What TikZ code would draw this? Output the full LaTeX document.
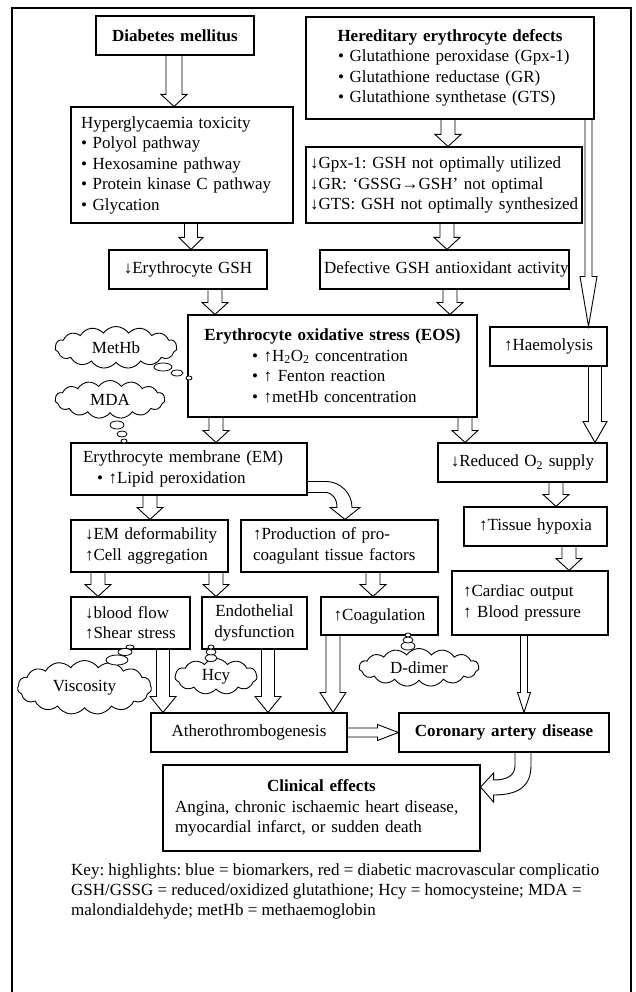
\documentclass[tikz,border=0pt]{standalone}
\usepackage{fontspec}
\setmainfont{Liberation Serif}
\usetikzlibrary{calc,shapes.symbols,shapes.geometric}
\pgfdeclarelayer{bg}
\pgfsetlayers{bg,main}
\frenchspacing
% vertical hollow block arrow: #1 src node, #2 tgt node, #3 x, #4 shaft half, #5 head half, #6 head length
\newcommand\varr[6]{%
  \draw[arr] let \p1=(#1.south -| #3,0), \p2=(#2.north -| #3,0) in
    (\x1-#4,\y1) -- (\x1-#4,\y2+#6) -- (\x1-#5,\y2+#6) -- (\x2,\y2) --
    (\x1+#5,\y2+#6) -- (\x1+#4,\y2+#6) -- (\x1+#4,\y1);}
\tikzset{
  box/.style={draw, line width=1.1pt, inner ysep=0pt, align=left},
  arr/.style={draw, line width=0.9pt, fill=white, line join=miter},
  cloudbox/.style={cloud, draw, line width=0.9pt, fill=white, cloud puffs=15, cloud puff arc=110, cloud ignores aspect, inner sep=0pt},
  bub/.style={draw, line width=0.8pt, fill=white},
}
\begin{document}
\begin{tikzpicture}[x=1pt, y=-1pt, font=\fontsize{17}{20.5}\selectfont]
\useasboundingbox (0,0) rectangle (635,992);
\draw[line width=1.1pt] (12,992) -- (12,8) -- (631,8) -- (631,992);

% boxes
\node[box, align=center, text width=150pt, inner xsep=4pt, minimum height=39pt] (dm) at (175,35.5) {\textbf{Diabetes mellitus}};
\node[box, text width=224pt, inner xsep=32pt, minimum height=102pt] (he) at (450,68)
  {\makebox[224pt][c]{\textbf{Hereditary erythrocyte defects}}\\
   \mbox{• Glutathione peroxidase (Gpx-1)}\\
   \mbox{• Glutathione reductase (GR)}\\
   \mbox{• Glutathione synthetase (GTS)}};
\node[box, text width=202pt, inner xsep=10pt, minimum height=116pt] (hy) at (182,165)
  {\mbox{Hyperglycaemia toxicity}\\ \mbox{• Polyol pathway}\\ \mbox{• Hexosamine pathway}\\
   \mbox{• Protein kinase C pathway}\\ \mbox{• Glycation}};
\node[box, text width=268pt, inner xsep=4pt, minimum height=76pt] (gp) at (444,185)
  {\mbox{↓Gpx-1: GSH not optimally utilized}\\
   \mbox{↓GR: ‘GSSG→GSH’ not optimal}\\
   \mbox{↓GTS: GSH not optimally synthesized}};
\node[box, align=center, text width=150pt, inner xsep=4pt, minimum height=39pt] (gs) at (188,269.5) {↓Erythrocyte GSH};
\node[box, align=center, text width=241pt, inner xsep=4pt, minimum height=39pt] (de) at (444.5,269.5) {\mbox{Defective GSH antioxidant activity}};
\node[box, text width=259pt, inner xsep=15pt, minimum height=102pt] (eos) at (332.5,366)
  {\makebox[259pt][c]{\textbf{Erythrocyte oxidative stress (EOS)}}\\
   \mbox{\hspace*{49pt}• ↑H\textsubscript{2}O\textsubscript{2} concentration}\\
   \mbox{\hspace*{49pt}• ↑ Fenton reaction}\\
   \mbox{\hspace*{49pt}• ↑metHb concentration}};
\node[box, align=center, text width=109pt, inner xsep=4pt, minimum height=39pt] (ha) at (548.5,346.5) {↑Haemolysis};
\node[box, text width=212pt, inner xsep=12pt, minimum height=52pt] (em) at (189,469)
  {\mbox{Erythrocyte membrane (EM)}\\ \mbox{\hspace*{14pt}• ↑Lipid peroxidation}};
\node[box, align=center, text width=161pt, inner xsep=4pt, minimum height=39pt] (ro) at (522.5,462.5) {↓Reduced O\textsubscript{2} supply};
\node[box, align=center, text width=135pt, inner xsep=4pt, minimum height=39pt] (th) at (535.5,526.5) {↑Tissue hypoxia};
\node[box, text width=134pt, inner xsep=11pt, minimum height=64pt] (co) at (530,603)
  {\mbox{↑Cardiac output}\\ \mbox{↑ Blood pressure}};
\node[box, text width=129pt, inner xsep=14pt, minimum height=52pt] (df) at (149.5,546)
  {\mbox{↓EM deformability}\\ \mbox{↑Cell aggregation}};
\node[box, text width=173pt, inner xsep=12pt, minimum height=52pt] (pr) at (339.5,546)
  {\mbox{↑Production of pro-}\\ \mbox{coagulant tissue factors}};
\node[box, text width=91pt, inner xsep=14pt, minimum height=52pt] (bf) at (130.5,623)
  {\mbox{↓blood flow}\\ \mbox{↑Shear stress}};
\node[box, align=center, text width=97pt, inner xsep=4pt, minimum height=52pt] (en) at (254.5,623)
  {Endothelial\\ dysfunction};
\node[box, align=center, text width=109pt, inner xsep=4pt, minimum height=38pt] (cg) at (379.5,616) {↑Coagulation};
\node[box, align=center, text width=188pt, inner xsep=4pt, minimum height=39pt] (at) at (249,732.5) {Atherothrombogenesis};
\node[box, align=center, text width=202pt, inner xsep=4pt, minimum height=39pt] (cad) at (504,732.5) {\textbf{Coronary artery disease}};
\node[box, text width=293pt, inner xsep=12pt, minimum height=86pt] (ce) at (321.5,808)
  {\makebox[293pt][c]{\textbf{Clinical effects}}\\
   \mbox{Angina, chronic ischaemic heart disease,}\\
   \mbox{myocardial infarct, or sudden death}};

% key
\node[anchor=north west, inner sep=0pt, align=left, font=\fontsize{17}{20}\selectfont] (key) at (71,863)
  {Key: highlights: blue = biomarkers, red = diabetic macrovascular complicatio\\
   GSH/GSSG = reduced/oxidized glutathione; Hcy = homocysteine; MDA =\\
   malondialdehyde; metHb = methaemoglobin};

% clouds
\node[cloudbox, minimum width=122pt, minimum height=42pt] (mh) at (116,347.5) {MetHb};
\node[cloudbox, minimum width=110pt, minimum height=38pt] (md) at (110,399.5) {MDA};
\node[cloudbox, minimum width=134pt, minimum height=54pt] (vi) at (84.5,687.5) {Viscosity};
\node[cloudbox, cloud puffs=11, minimum width=82pt, minimum height=36pt] (hc) at (216,676.5) {Hcy};
\node[cloudbox, minimum width=120pt, minimum height=38pt] (dd) at (419,667.5) {D-dimer};

% thought bubbles
\draw[bub] (163,367) ellipse [x radius=9pt, y radius=4pt];
\draw[bub] (177,373) ellipse [x radius=6pt, y radius=3pt];
\draw[bub] (189,378) ellipse [x radius=3pt, y radius=2pt];
\draw[bub] (117,425) ellipse [x radius=7pt, y radius=4pt];
\draw[bub] (122,434) ellipse [x radius=5pt, y radius=3pt];
\draw[bub] (124,441) ellipse [x radius=3pt, y radius=2pt];
\draw[bub] (117,660) ellipse [x radius=11pt, y radius=5pt];
\draw[bub] (125,652) ellipse [x radius=7pt, y radius=3.5pt];
\draw[bub] (130,647) ellipse [x radius=4pt, y radius=2pt];
\draw[bub] (211,658) ellipse [x radius=6pt, y radius=3.5pt];
\draw[bub] (211,652) ellipse [x radius=5pt, y radius=3pt];
\draw[bub] (211,647) ellipse [x radius=3pt, y radius=2pt];
\draw[bub] (408,646) ellipse [x radius=7pt, y radius=4pt];
\draw[bub] (408,640) ellipse [x radius=5pt, y radius=3pt];
\draw[bub] (408,635) ellipse [x radius=3pt, y radius=2pt];

% block arrows
\begin{pgfonlayer}{bg}
\varr{dm}{hy}{174}{8pt}{13pt}{12pt}
\varr{hy}{gs}{191}{6.5pt}{12pt}{12pt}
\varr{he}{gp}{448}{7pt}{13pt}{12pt}
\varr{gp}{de}{447}{7pt}{13pt}{12pt}
\varr{gs}{eos}{215}{7pt}{13pt}{12pt}
\varr{de}{eos}{450}{7pt}{13pt}{12pt}
\varr{eos}{em}{216}{7pt}{13pt}{12pt}
\varr{eos}{ro}{465}{7pt}{13pt}{12pt}
\varr{he}{ha}{588.5}{3.5pt}{8.5pt}{50pt}
\varr{ha}{ro}{595}{6.5pt}{12pt}{21pt}
\varr{ro}{th}{556}{7pt}{13pt}{12pt}
\varr{th}{co}{569}{7pt}{13pt}{12pt}
\varr{em}{df}{150}{7pt}{13pt}{12pt}
\varr{df}{bf}{98}{7pt}{13pt}{12pt}
\varr{df}{en}{216}{7pt}{13pt}{12pt}
\varr{pr}{cg}{373}{7pt}{13pt}{12pt}
\varr{bf}{at}{163}{6.5pt}{13pt}{16pt}
\varr{en}{at}{268}{6.5pt}{13pt}{16pt}
\varr{cg}{at}{333}{7pt}{13pt}{20pt}
\varr{co}{cad}{524}{3.5pt}{6.5pt}{20pt}
% Atherothrombogenesis -> Coronary
\draw[arr] let \p1=(at.east), \p2=(cad.west) in
  (\x1,\y1+4.5pt) -- (\x2-21pt,\y1+4.5pt) -- (\x2-21pt,\y1+8pt) -- (\x2,\y1) --
  (\x2-21pt,\y1-8pt) -- (\x2-21pt,\y1-4.5pt) -- (\x1,\y1-4.5pt);
% EM -> production (curved)
\draw[arr] let \p1=(em.east), \p2=(pr.north -| 345,0) in
  (\x1,\y2+38pt) -- (\x2-20pt,\y2+38pt)
  .. controls (\x2-4pt,\y2+38pt) and (\x2+7pt,\y2+26pt) .. (\x2+7pt,\y2+12pt)
  -- (\x2+15pt,\y2+12pt) -- (\x2,\y2) -- (\x2-15pt,\y2+12pt) -- (\x2-8pt,\y2+12pt)
  .. controls (\x2-8pt,\y2+20pt) and (\x2-12pt,\y2+27pt) .. (\x2-20pt,\y2+27pt)
  -- (\x1,\y2+27pt);
% Coronary -> Clinical (curved)
\draw[arr] let \p1=(cad.south -| 523,0), \p2=(ce.east |- 0,787) in
  (\x1-8pt,\y1) -- (\x1-8pt,\y1-13pt)
  .. controls (\x1-8pt,\y1-23pt) and (\x1-16pt,\y2+7pt) .. (\x2+13pt,\y2+7pt)
  -- (\x2+13pt,\y2+14pt) -- (\x2,\y2) -- (\x2+13pt,\y2-15pt) -- (\x2+13pt,\y2-8pt)
  .. controls (\x1-3pt,\y2-8pt) and (\x1+8pt,\y2+2pt) .. (\x1+8pt,\y1-13pt)
  -- (\x1+8pt,\y1);
\end{pgfonlayer}
\end{tikzpicture}
\end{document}
